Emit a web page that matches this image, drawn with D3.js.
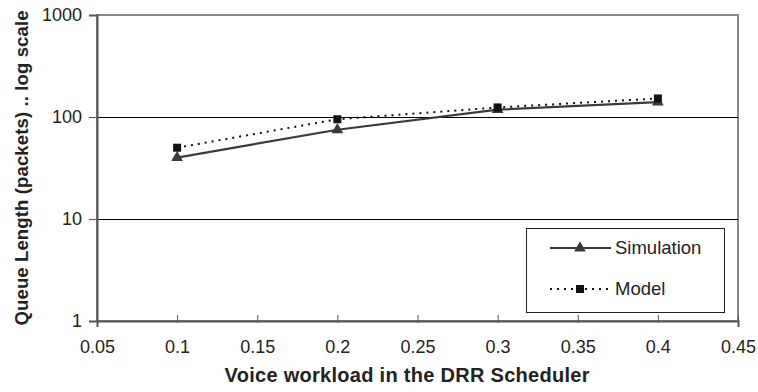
<!DOCTYPE html>
<html>
<head>
<meta charset="utf-8">
<script src="https://cdn.jsdelivr.net/npm/d3@7"></script>
<style>
  html, body { margin: 0; padding: 0; background: #fff; }
  svg { display: block; font-family: Arial, "Liberation Sans", sans-serif; }
</style>
</head>
<body>
<svg id="chart" width="758" height="392"></svg>
<script>
// Queue length vs. voice workload, simulation compared with analytical model
const workload = [0.1, 0.2, 0.3, 0.4];
const simulation = [40, 75, 118, 140];
const model = [50, 95, 124, 152];
const xTicks = [0.05, 0.1, 0.15, 0.2, 0.25, 0.3, 0.35, 0.4, 0.45];
const yTicks = [1, 10, 100, 1000];
const seriesNames = ["Simulation", "Model"];

const svg = d3.select("#chart");
const plotL = 97, plotR = 738, plotT = 15, plotB = 321;
const FONT = "Arial, 'Liberation Sans', sans-serif";

const x = d3.scaleLinear().domain([0.05, 0.45]).range([plotL, plotR]);
const y = d3.scaleLog().domain([1, 1000]).range([plotB, plotT]);

// plot frame
svg.append("rect")
  .attr("x", plotL).attr("y", plotT)
  .attr("width", plotR - plotL).attr("height", plotB - plotT)
  .attr("fill", "none").attr("stroke", "#8a8a8a").attr("stroke-width", 2);

// horizontal gridlines
svg.append("g").selectAll("line")
  .data(yTicks.filter(d => d > 1 && d < 1000))
  .join("line")
  .attr("x1", plotL).attr("x2", plotR)
  .attr("y1", d => Math.round(y(d)) + 0.5).attr("y2", d => Math.round(y(d)) + 0.5)
  .attr("stroke", "#000").attr("stroke-width", 1.2);

// y axis
const yAxis = d3.axisLeft(y).tickValues(yTicks).tickFormat(d3.format("d"))
  .tickSize(8).tickPadding(7);
const gy = svg.append("g").attr("transform", `translate(${plotL},0)`).call(yAxis);
gy.select(".domain").attr("stroke", "#555").attr("stroke-width", 2);
gy.selectAll(".tick line").attr("stroke", "#555");
gy.selectAll(".tick text").attr("font-size", 18).attr("fill", "#222")
  .attr("font-family", FONT);

// x axis
const xAxis = d3.axisBottom(x).tickValues(xTicks).tickFormat(d => String(d))
  .tickSize(6).tickPadding(13);
const gx = svg.append("g").attr("transform", `translate(0,${plotB})`).call(xAxis);
gx.select(".domain").attr("stroke", "#555").attr("stroke-width", 2);
gx.selectAll(".tick line").attr("stroke", "#555").attr("y1", -6).attr("y2", 2);
gx.selectAll(".tick text").attr("font-size", 18).attr("fill", "#222")
  .attr("font-family", FONT);

const line = d3.line().x(d => x(d[0])).y(d => y(d[1]));
const simPts = workload.map((w, i) => [w, simulation[i]]);
const modPts = workload.map((w, i) => [w, model[i]]);

const tri = d3.symbol().type(d3.symbolTriangle).size(60);
const sq = d3.symbol().type(d3.symbolSquare).size(64);

// simulation series
svg.append("path").datum(simPts).attr("d", line)
  .attr("fill", "none").attr("stroke", "#3a3a3a").attr("stroke-width", 2.2);
svg.append("g").selectAll("path").data(simPts).join("path")
  .attr("d", tri).attr("fill", "#3a3a3a")
  .attr("transform", d => `translate(${x(d[0])},${y(d[1])})`);

// model series
svg.append("path").datum(modPts).attr("d", line)
  .attr("fill", "none").attr("stroke", "#111").attr("stroke-width", 2)
  .attr("stroke-dasharray", "2,5");
svg.append("g").selectAll("path").data(modPts).join("path")
  .attr("d", sq).attr("fill", "#111")
  .attr("transform", d => `translate(${x(d[0])},${y(d[1])})`);

// legend
const lg = svg.append("g");
lg.append("rect").attr("x", 526.5).attr("y", 228.5).attr("width", 198).attr("height", 84)
  .attr("fill", "#fff").attr("stroke", "#222").attr("stroke-width", 1);
const rows = [
  { name: seriesNames[0], y: 248, dash: null, color: "#3a3a3a", sym: tri },
  { name: seriesNames[1], y: 289, dash: "2,5", color: "#111", sym: sq }
];
rows.forEach(r => {
  lg.append("line").attr("x1", 550).attr("x2", 611).attr("y1", r.y).attr("y2", r.y)
    .attr("stroke", r.color).attr("stroke-width", 2)
    .attr("stroke-dasharray", r.dash);
  lg.append("path").attr("d", r.sym).attr("fill", r.color)
    .attr("transform", `translate(580,${r.y})`);
  lg.append("text").attr("x", 615).attr("y", r.y).attr("dy", "0.35em")
    .attr("font-size", 18.5).attr("fill", "#222").text(r.name);
});

// axis titles
svg.append("text").attr("x", 407).attr("y", 382).attr("text-anchor", "middle")
  .attr("font-size", 20).attr("font-weight", "bold").attr("fill", "#222")
  .attr("textLength", 365).attr("lengthAdjust", "spacing")
  .text("Voice workload in the DRR Scheduler");
svg.append("text").attr("transform", "translate(28,168) rotate(-90)")
  .attr("text-anchor", "middle")
  .attr("font-size", 18.5).attr("font-weight", "bold").attr("fill", "#222")
  .attr("textLength", 315).attr("lengthAdjust", "spacing")
  .text("Queue Length (packets) .. log scale");
</script>
</body>
</html>
